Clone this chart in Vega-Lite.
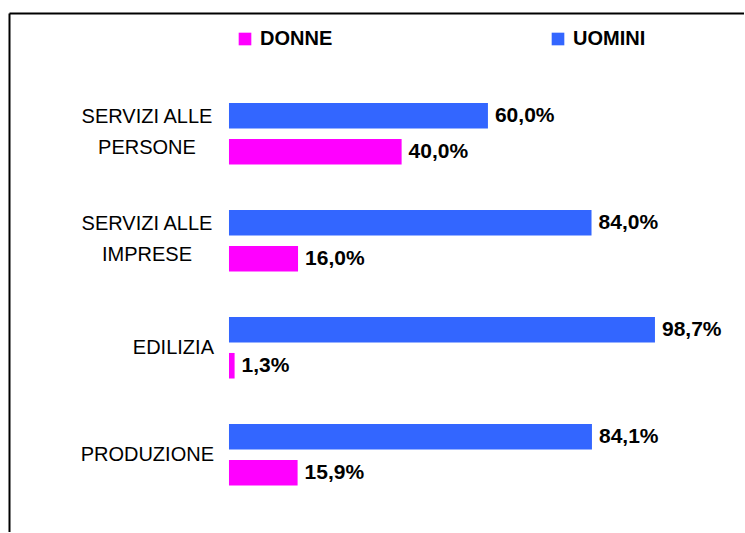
{
  "$schema": "https://vega.github.io/schema/vega-lite/v6.json",
  "width": 735,
  "height": 519,
  "padding": {"left": 9, "top": 13, "right": 0, "bottom": 0},
  "background": "white",
  "config": {
    "view": {"stroke": null},
    "font": "Liberation Sans",
    "locale": {"number": {"decimal": ",", "thousands": ".", "grouping": [3], "currency": ["", " €"]}}
  },
  "datasets": {
    "valori": [
      {"settore": "SERVIZI ALLE PERSONE", "sesso": "UOMINI", "quota": 0.600},
      {"settore": "SERVIZI ALLE PERSONE", "sesso": "DONNE", "quota": 0.400},
      {"settore": "SERVIZI ALLE IMPRESE", "sesso": "UOMINI", "quota": 0.840},
      {"settore": "SERVIZI ALLE IMPRESE", "sesso": "DONNE", "quota": 0.160},
      {"settore": "EDILIZIA", "sesso": "UOMINI", "quota": 0.987},
      {"settore": "EDILIZIA", "sesso": "DONNE", "quota": 0.013},
      {"settore": "PRODUZIONE", "sesso": "UOMINI", "quota": 0.841},
      {"settore": "PRODUZIONE", "sesso": "DONNE", "quota": 0.159}
    ],
    "categorie": [
      {"settore": "SERVIZI ALLE PERSONE", "etichetta": "SERVIZI ALLE\nPERSONE", "righe": 2},
      {"settore": "SERVIZI ALLE IMPRESE", "etichetta": "SERVIZI ALLE\nIMPRESE", "righe": 2},
      {"settore": "EDILIZIA", "etichetta": "EDILIZIA", "righe": 1},
      {"settore": "PRODUZIONE", "etichetta": "PRODUZIONE", "righe": 1}
    ]
  },
  "layer": [
    {
      "data": {"name": "valori"},
      "mark": {"type": "bar"},
      "encoding": {
        "y": {
          "field": "settore", "type": "nominal",
          "sort": ["SERVIZI ALLE PERSONE", "SERVIZI ALLE IMPRESE", "EDILIZIA", "PRODUZIONE"],
          "axis": {"orient": "left", "title": null, "labels": false, "ticks": false, "grid": false, "domain": true, "domainColor": "black", "domainWidth": 2},
          "scale": {"paddingInner": 0.425, "paddingOuter": 0.6377, "align": 0.6593}
        },
        "yOffset": {
          "field": "sesso", "type": "nominal",
          "sort": ["UOMINI", "DONNE"],
          "scale": {"paddingInner": 0.29, "paddingOuter": 0}
        },
        "x": {
          "field": "quota", "type": "quantitative",
          "axis": {"orient": "top", "title": null, "labels": false, "ticks": false, "grid": false, "domain": true, "domainColor": "black", "domainWidth": 2},
          "scale": {"domain": [-0.5097, 1.1933], "nice": false, "zero": false}
        },
        "color": {
          "field": "sesso", "type": "nominal",
          "scale": {"domain": ["DONNE", "UOMINI"], "range": ["#FF00FF", "#3366FF"]},
          "legend": {
            "orient": "none", "legendX": 226, "legendY": 16,
            "direction": "horizontal", "title": null,
            "symbolType": "square", "symbolSize": 160, "symbolStrokeWidth": 0, "symbolOpacity": 1,
            "labelFont": "Liberation Sans", "labelFontSize": 20, "labelFontWeight": "bold",
            "labelColor": "black", "labelOffset": 5, "columnPadding": 215, "padding": 0
          }
        }
      }
    },
    {
      "data": {"name": "valori"},
      "mark": {"type": "text", "align": "left", "baseline": "middle", "dx": 7, "fontSize": 21, "fontWeight": "bold", "color": "black"},
      "encoding": {
        "y": {"field": "settore", "type": "nominal", "sort": ["SERVIZI ALLE PERSONE", "SERVIZI ALLE IMPRESE", "EDILIZIA", "PRODUZIONE"]},
        "yOffset": {"field": "sesso", "type": "nominal", "sort": ["UOMINI", "DONNE"]},
        "x": {"field": "quota", "type": "quantitative"},
        "text": {"field": "quota", "type": "quantitative", "format": ".1%"}
      }
    },
    {
      "data": {"name": "categorie"},
      "transform": [{"filter": "datum.righe == 2"}],
      "mark": {"type": "text", "align": "center", "baseline": "middle", "dx": -82, "dy": -17, "lineBreak": "\n", "lineHeight": 31, "fontSize": 20, "color": "black"},
      "encoding": {
        "y": {"field": "settore", "type": "nominal", "sort": ["SERVIZI ALLE PERSONE", "SERVIZI ALLE IMPRESE", "EDILIZIA", "PRODUZIONE"]},
        "x": {"datum": 0},
        "text": {"field": "etichetta"}
      }
    },
    {
      "data": {"name": "categorie"},
      "transform": [{"filter": "datum.righe == 1"}],
      "mark": {"type": "text", "align": "right", "baseline": "middle", "dx": -15, "fontSize": 20, "color": "black"},
      "encoding": {
        "y": {"field": "settore", "type": "nominal", "sort": ["SERVIZI ALLE PERSONE", "SERVIZI ALLE IMPRESE", "EDILIZIA", "PRODUZIONE"]},
        "x": {"datum": 0},
        "text": {"field": "etichetta"}
      }
    }
  ]
}
